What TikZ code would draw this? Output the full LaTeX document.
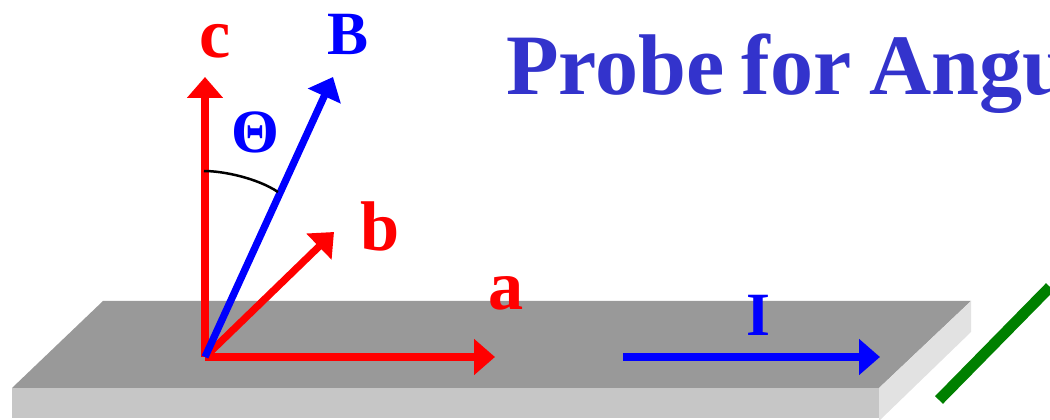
\documentclass[tikz,border=0pt]{standalone}
\usepackage{fontspec}
\setmainfont{Liberation Serif}
\usetikzlibrary{arrows.meta}
\definecolor{titleblue}{HTML}{3333CC}
\tikzset{
  vector/.style={line width=0.145cm, -{Triangle[length=0.42cm, width=0.7cm]}},
  axislabel/.style={font=\fontsize{35}{35}\selectfont\bfseries, inner sep=0pt},
  smalllabel/.style={font=\fontsize{40}{40}\selectfont\bfseries, inner sep=0pt}
}
\begin{document}
\begin{tikzpicture}[line join=miter]
  \useasboundingbox (0,0) rectangle (21,8.4);
  % film
  \fill[black!40] (2.06,2.38) -- (19.42,2.38) -- (17.58,0.64) -- (0.24,0.64) -- cycle;
  \fill[gray!45] (0.24,0.64) rectangle (17.58,0.04);
  \fill[gray!23] (17.58,0.64) -- (19.42,2.38) -- (19.42,1.76) -- (17.6,0) -- (17.58,0) -- cycle;
  \coordinate (origin) at (4.10,1.26);
  \coordinate (ctip) at (4.10,6.86);
  \coordinate (atip) at (9.90,1.26);
  \coordinate (btip) at (6.68,3.76);
  \coordinate (Btip) at (6.66,6.86);
  \coordinate (Istart) at (12.46,1.26);
  \coordinate (Iend) at (17.60,1.26);
  \coordinate (wireA) at (18.78,0.40);
  \coordinate (wireB) at (21.00,2.66);
  \draw[vector, red] (origin) -- (ctip);
  \draw[vector, red] (origin) -- (atip);
  \draw[vector, red] (origin) -- (btip);
  \draw[vector, blue] (origin) -- (Btip);
  \draw[vector, blue] (Istart) -- (Iend);
  \draw[line width=0.22cm, green!50!black] (wireA) -- (wireB);
  \draw[line width=0.05cm] (4.08,4.98) .. controls (4.46,4.98) and (5.14,4.84) .. (5.56,4.56);
  % labels
  \node[smalllabel, red] (clabel) at (4.30,7.58) {c};
  \node[axislabel, blue] (Blabel) at (6.97,7.72) {B};
  \node[axislabel, blue] (thetalabel) at (5.11,5.76) {Θ};
  \node[smalllabel, red] (blabel) at (7.60,3.88) {b};
  \node[smalllabel, red] (alabel) at (10.12,2.54) {a};
  \node[axislabel, blue] (Ilabel) at (15.16,2.10) {I};
  \node[anchor=base west, inner sep=0pt, titleblue, font=\fontsize{49}{49}\selectfont\bfseries] (title) at (10.12,6.50) {\spaceskip=9.8pt Probe for Angu};
\end{tikzpicture}
\end{document}
